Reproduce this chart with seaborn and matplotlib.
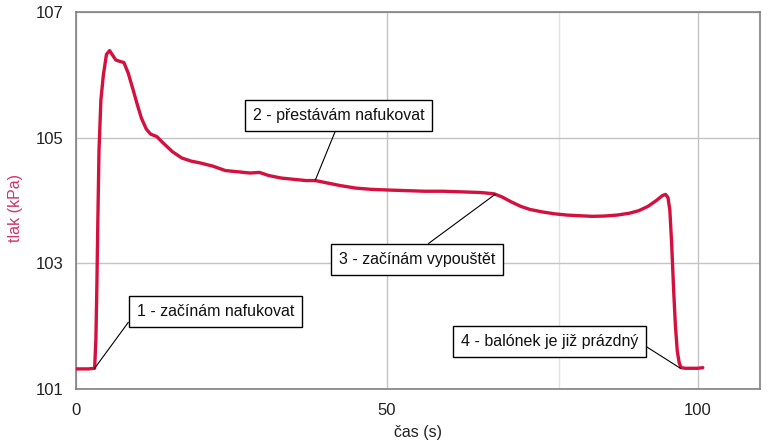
import numpy as np
import pandas as pd
import matplotlib
matplotlib.use('Agg')
import matplotlib.pyplot as plt
from matplotlib.ticker import MultipleLocator
import seaborn as sns

# --- data ---
cas = [0, 1, 2, 3.0, 3.2, 3.35, 3.5, 3.7, 4.0, 4.4, 4.9, 5.4, 5.8, 6.4, 7.0, 7.7,
       8.4, 9.2, 9.8, 10.5, 11.3, 12.0, 13.0, 14.0, 15.5, 17.0, 18.5, 20.0,
       22.0, 24.0, 26.0, 28.0, 29.5, 31.0, 33.0, 35.0, 37.0, 38.5, 40.0, 42.5,
       45.0, 47.5, 50.0, 53.0, 56.0, 59.0, 62.0, 65.0, 67.2, 68.5, 70.0, 71.5,
       73.0, 75.0, 77.0, 79.0, 81.0, 83.0, 85.0, 87.0, 89.0, 90.5, 92.0, 93.3,
       94.3, 94.8, 95.2, 95.5, 95.8, 96.1, 96.4, 96.7, 97.0, 97.3, 98.0, 99.0,
       100.0, 100.8]
tlak = [101.32, 101.32, 101.32, 101.33, 101.8, 102.6, 103.6, 104.8, 105.6, 106.0,
        106.33, 106.39, 106.33, 106.24, 106.22, 106.20, 106.03, 105.76, 105.55,
        105.32, 105.14, 105.06, 105.02, 104.92, 104.78, 104.68, 104.63, 104.60,
        104.55, 104.48, 104.46, 104.44, 104.45, 104.40, 104.36, 104.34, 104.32,
        104.32, 104.29, 104.24, 104.20, 104.18, 104.17, 104.16, 104.15, 104.15,
        104.14, 104.13, 104.11, 104.06, 103.98, 103.91, 103.86, 103.82, 103.79,
        103.77, 103.76, 103.75, 103.755, 103.77, 103.80, 103.84, 103.91, 104.00,
        104.08, 104.10, 104.05, 103.85, 103.30, 102.60, 102.00, 101.60, 101.42,
        101.34, 101.33, 101.33, 101.33, 101.34]

popisky = ['1 - začínám nafukovat', '2 - přestávám nafukovat',
           '3 - začínám vypouštět', '4 - balónek je již prázdný']
popisky_x = [3.0, 38.5, 67.4, 97.2]
popisky_y = [101.33, 104.33, 104.10, 101.33]

df = pd.DataFrame({'cas': cas, 'tlak': tlak})

sns.set_style('white')
plt.rcParams['font.family'] = ['Liberation Sans', 'DejaVu Sans']

fig = plt.figure(figsize=(7.82, 4.42), dpi=100)
ax = fig.add_axes([76 / 782, 1 - 389 / 442, (760 - 76) / 782, (389 - 12.3) / 442])

line_col = '#d4103e'
sns.lineplot(data=df, x='cas', y='tlak', ax=ax, color=line_col, linewidth=2.4,
             estimator=None, sort=False, zorder=3)

ax.set_xlim(0, 110)
ax.set_ylim(101, 107)
ax.set_xticks([0, 50, 100])
ax.xaxis.set_minor_locator(MultipleLocator(10))
ax.set_yticks([101, 103, 105, 107])
ax.yaxis.set_minor_locator(MultipleLocator(1))

ax.grid(True, which='major', color='#c4c4c4', linewidth=1.0)
ax.axvline(77.7, color='#e2e2e2', linewidth=1.0, zorder=0)

for s in ax.spines.values():
    s.set_color('#808080')
    s.set_linewidth(1.2)

ax.tick_params(axis='both', which='major', direction='out', length=7, width=1,
               color='#808080', labelsize=12, labelcolor='#222222')
ax.tick_params(axis='both', which='minor', direction='out', length=3.5, width=1,
               color='#808080')
ax.tick_params(axis='x', which='major', pad=3)
ax.tick_params(axis='y', which='major', pad=2)

ax.set_xlabel('čas (s)', fontsize=11.5, color='#222222', labelpad=5)
ax.set_ylabel('tlak (kPa)', fontsize=11.5, color='#d0356a')
ax.yaxis.set_label_coords(-0.077, 0.48)

# annotation boxes (centres in figure pixels) and where the line leaves the box
box_px = [(215.5, 311.5), (338.5, 115.8), (417, 259.5), (549.5, 341.5)]
relpos = [(0, 0.55), (0.5, 0), (0.5, 1), (1, 0.5)]
for txt, xv, yv, (bx, by), rp in zip(popisky, popisky_x, popisky_y, box_px, relpos):
    ax.annotate(txt, xy=(xv, yv), xycoords='data',
                xytext=(bx / 782, 1 - by / 442), textcoords='figure fraction',
                ha='center', va='center', fontsize=11.5, color='#111111',
                bbox=dict(boxstyle='square,pad=0.5', fc='white', ec='black', lw=1),
                arrowprops=dict(arrowstyle='-', color='black', lw=0.8,
                                shrinkA=0, shrinkB=0, relpos=rp),
                zorder=5)

fig.savefig('out.png', dpi=100)
